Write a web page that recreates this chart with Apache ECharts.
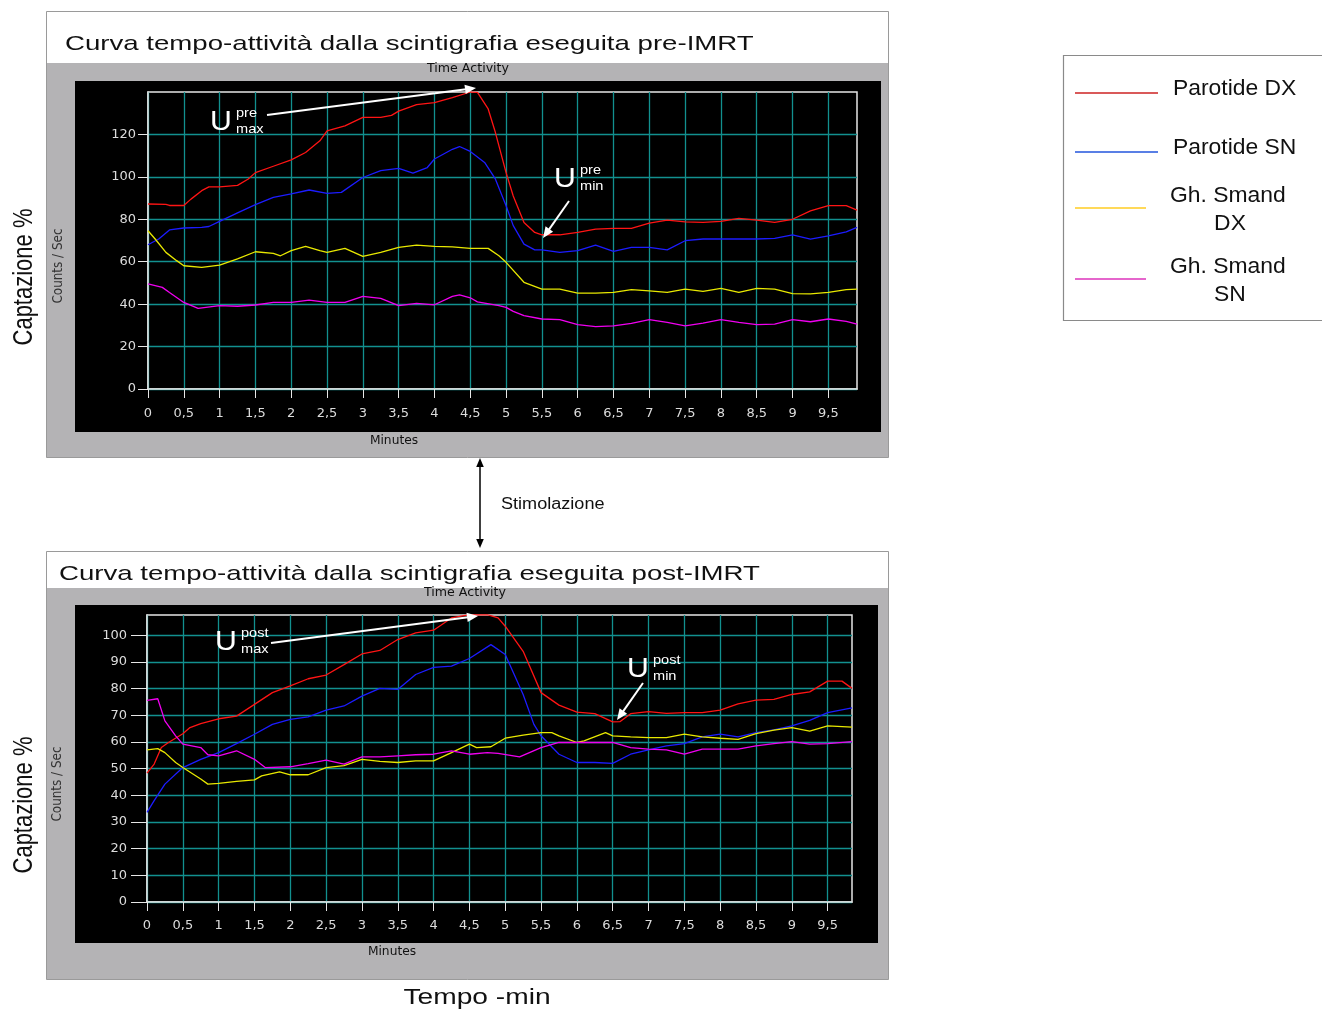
<!DOCTYPE html>
<html>
<head>
<meta charset="utf-8">
<script src="https://cdn.jsdelivr.net/npm/echarts@6/dist/echarts.min.js"></script>
<style>
html, body { margin: 0; padding: 0; background: #fff; }
#chart { width: 1322px; height: 1011px; }
</style>
</head>
<body>
<div id="chart"></div>
<script>
// nomi e colori delle curve
const seriesNames = ['Parotide DX', 'Parotide SN', 'Gh. Smand DX', 'Gh. Smand SN']
const lineColors = ['#ff1414', '#1c1cff', '#e8e800', '#f000f0']
const legendColors = ['#cc2222', '#2255dd', '#ffcc22', '#dd33bb']

// scintigrafia pre-IMRT: [minuti, counts/sec]
const preDX = [[0,87.2],[0.25,87],[0.3,86.5],[0.5,86.5],[0.6,89.5],[0.75,93.5],[0.85,95.3],[1,95.3],[1.25,96],[1.4,99],[1.5,102],[1.75,105],[2,108],[2.2,111.5],[2.4,117],[2.5,121.7],[2.75,124],[3,128],[3.25,128],[3.4,129],[3.5,131],[3.75,134],[4,135],[4.25,137.4],[4.5,140],[4.6,139.8],[4.75,132],[4.85,121],[5,102],[5.1,91],[5.25,78.5],[5.4,73.8],[5.5,72.7],[5.75,72.7],[6,73.8],[6.25,75.4],[6.5,75.7],[6.75,75.7],[7,78.2],[7.25,79.6],[7.5,78.8],[7.75,78.5],[8,79],[8.25,80.4],[8.5,79.6],[8.75,78.5],[9,80],[9.25,84],[9.5,86.4],[9.75,86.4],[9.9,84.3]]
const preSN = [[0,68],[0.15,70.7],[0.3,75],[0.5,75.9],[0.75,76.2],[0.85,76.6],[1,79],[1.25,83],[1.5,86.9],[1.75,90.3],[2,92],[2.25,93.8],[2.5,92.2],[2.7,92.7],[3,99.7],[3.25,102.9],[3.5,104],[3.7,101.8],[3.9,104.4],[4,108.4],[4.25,113],[4.35,114.3],[4.5,112],[4.7,106.8],[4.85,99],[5,86.4],[5.1,77],[5.25,68.3],[5.4,65.6],[5.5,65.6],[5.75,64.4],[6,65.2],[6.25,67.8],[6.5,64.9],[6.75,66.8],[7,66.8],[7.25,65.6],[7.5,69.9],[7.75,70.7],[8,70.7],[8.25,70.7],[8.5,70.7],[8.75,71],[9,72.7],[9.25,70.7],[9.5,72.2],[9.75,74.1],[9.9,76.2]]
const preSmDX = [[0,74.6],[0.1,70.7],[0.25,64.4],[0.4,60.5],[0.5,58.1],[0.75,57.3],[1,58.4],[1.25,61.3],[1.5,64.7],[1.75,63.9],[1.85,62.8],[2,65.2],[2.2,67.2],[2.4,65.2],[2.5,64.4],[2.75,66.3],[3,62.5],[3.25,64.4],[3.5,66.8],[3.75,67.8],[4,67.2],[4.25,67],[4.5,66.3],[4.75,66.3],[4.9,62.8],[5,59.7],[5.25,50.3],[5.5,47.1],[5.75,47.1],[6,45.2],[6.25,45.2],[6.5,45.5],[6.75,46.8],[7,46.3],[7.25,45.5],[7.5,47.1],[7.75,46],[8,47.4],[8.25,45.5],[8.5,47.4],[8.75,47.1],[9,45],[9.25,44.8],[9.5,45.5],[9.75,46.8],[9.9,47.1]]
const preSmSN = [[0,49.5],[0.2,47.9],[0.3,45.5],[0.5,40.8],[0.7,38],[1,39.3],[1.25,39],[1.5,39.6],[1.75,40.8],[2,40.8],[2.25,41.9],[2.5,40.8],[2.75,40.8],[3,43.7],[3.25,42.7],[3.5,39.3],[3.75,40.4],[4,39.7],[4.25,43.7],[4.35,44.4],[4.5,43],[4.6,41.1],[4.9,39.3],[5,38.5],[5.1,36.6],[5.25,34.6],[5.5,33],[5.75,32.7],[6,30.3],[6.25,29.4],[6.5,29.8],[6.75,30.9],[7,32.7],[7.25,31.4],[7.5,29.8],[7.75,31.1],[8,32.7],[8.25,31.4],[8.5,30.3],[8.75,30.6],[9,32.7],[9.25,31.7],[9.5,33],[9.75,31.9],[9.9,30.6]]

// scintigrafia post-IMRT
const postDX = [[0,48.3],[0.1,51.7],[0.2,57.9],[0.3,59.8],[0.5,63.1],[0.6,65.4],[0.75,66.9],[1,68.7],[1.25,69.7],[1.5,74.1],[1.75,78.5],[2,81],[2.25,83.7],[2.5,85.1],[2.75,89],[3,93],[3.25,94.3],[3.5,98.4],[3.75,100.9],[4,101.9],[4.25,106.5],[4.5,107.7],[4.75,107.7],[4.9,106.5],[5,103.4],[5.25,94],[5.5,78.5],[5.75,73.8],[6,71.2],[6.25,70.6],[6.5,67.5],[6.6,67.6],[6.75,70.6],[7,71.4],[7.25,70.7],[7.5,71],[7.75,71],[8,71.9],[8.25,74.3],[8.5,75.7],[8.75,76],[9,77.8],[9.25,78.8],[9.5,82.8],[9.7,82.8],[9.84,80.1]]
const postSN = [[0,33.6],[0.1,38],[0.25,44.2],[0.5,50.4],[0.75,53.5],[1,56],[1.25,59.4],[1.5,62.9],[1.75,66.6],[2,68.5],[2.25,69.4],[2.5,71.9],[2.75,73.5],[3,77.2],[3.25,80.1],[3.5,79.7],[3.75,85.3],[4,88],[4.25,88.4],[4.5,91.3],[4.8,96.5],[5,92.8],[5.25,77.8],[5.4,66.6],[5.5,62.3],[5.75,55.4],[6,52.3],[6.25,52.3],[6.5,52],[6.75,55.4],[7,57],[7.25,58.5],[7.5,59.4],[7.75,61.9],[8,62.9],[8.25,61.9],[8.5,63.5],[8.75,64.5],[9,66],[9.25,68.1],[9.5,71],[9.84,72.8]]
const postSmDX = [[0,57],[0.15,57.5],[0.25,56],[0.4,52.3],[0.5,50.4],[0.75,46.1],[0.85,44.2],[1,44.5],[1.25,45.2],[1.5,45.8],[1.6,47.3],[1.85,48.8],[2,47.7],[2.25,47.7],[2.5,50.4],[2.75,51.1],[3,53.5],[3.25,52.7],[3.5,52.3],[3.75,52.9],[4,52.9],[4.25,56],[4.5,59.2],[4.6,57.9],[4.8,58.2],[5,61.4],[5.25,62.6],[5.5,63.5],[5.65,63.5],[5.75,62.3],[6,59.8],[6.1,60.4],[6.4,63.5],[6.5,62.3],[6.75,61.9],[7,61.6],[7.25,61.6],[7.5,62.9],[7.75,61.9],[8,61.4],[8.25,61],[8.5,63.1],[8.75,64.4],[9,65.4],[9.25,64.1],[9.5,66],[9.84,65.6]]
const postSmSN = [[0,75.6],[0.15,76.2],[0.25,67.9],[0.4,62.3],[0.5,59.2],[0.75,57.9],[0.85,55.2],[1,54.8],[1.25,56.7],[1.5,53.5],[1.65,50.4],[2,50.7],[2.25,51.9],[2.5,53.2],[2.75,51.7],[3,54.4],[3.25,54.4],[3.5,54.8],[3.75,55.2],[4,55.4],[4.25,56.7],[4.5,55.4],[4.75,56],[4.9,55.7],[5.2,54.4],[5.5,57.9],[5.75,59.8],[6,59.8],[6.5,59.8],[6.75,57.9],[7,57.3],[7.25,57],[7.5,55.4],[7.75,57.3],[8,57.3],[8.25,57.3],[8.5,58.5],[8.75,59.4],[9,60.1],[9.25,59.2],[9.5,59.4],[9.84,60.1]]

// tacche degli assi
const xTicks = [0, 0.5, 1, 1.5, 2, 2.5, 3, 3.5, 4, 4.5, 5, 5.5, 6, 6.5, 7, 7.5, 8, 8.5, 9, 9.5]
const preYTicks = [0, 20, 40, 60, 80, 100, 120]
const postYTicks = [0, 10, 20, 30, 40, 50, 60, 70, 80, 90, 100]
const preAxis = { xMax: 9.9, yMax: 140, yStep: 20, yTicks: preYTicks }
const postAxis = { xMax: 9.84, yMax: 107.6, yStep: 10, yTicks: postYTicks }

const chart = echarts.init(document.getElementById('chart'))

const gridColor = '#12908f'
const axisColor = '#e6e6e6'
const labelColor = '#dcdcdc'
const plotFont = 'DejaVu Sans'
const arial = '"Liberation Sans", Arial, sans-serif'

function xAxisOpt (gi, ax, margin) {
  return {
    type: 'value', gridIndex: gi, min: 0, max: ax.xMax, interval: 0.5,
    axisLine: { lineStyle: { color: axisColor, width: 1.5 } },
    axisTick: { show: true, length: 9, customValues: xTicks, lineStyle: { color: axisColor } },
    axisLabel: {
      color: labelColor, fontFamily: plotFont, fontSize: 13, margin: margin,
      customValues: xTicks,
      formatter: v => String(v).replace('.', ',')
    },
    splitLine: { show: true, lineStyle: { color: gridColor, width: 1.3 } }
  }
}
function yAxisOpt (gi, ax, tickLen, margin) {
  return {
    type: 'value', gridIndex: gi, min: 0, max: ax.yMax, interval: ax.yStep,
    axisLine: { show: true, lineStyle: { color: axisColor, width: 1.5 } },
    axisTick: { show: true, length: tickLen, customValues: ax.yTicks, lineStyle: { color: axisColor } },
    axisLabel: {
      color: labelColor, fontFamily: plotFont, fontSize: 13, margin: margin,
      customValues: ax.yTicks
    },
    splitLine: { show: true, lineStyle: { color: gridColor, width: 1.3 } }
  }
}

function makeSeries (data, i, gi) {
  return {
    name: seriesNames[i], type: 'line', xAxisIndex: gi, yAxisIndex: gi,
    data: data, showSymbol: false, smooth: false, z: 3,
    lineStyle: { color: lineColors[i], width: 1.3 },
    itemStyle: { color: lineColors[i] }
  }
}

function arrow (x1, y1, x2, y2, color, w, h) {
  const a = Math.atan2(y2 - y1, x2 - x1)
  const c = Math.cos(a), s = Math.sin(a)
  const bx = x2 - h * c, by = y2 - h * s
  return [
    { type: 'line', z: 100, shape: { x1: x1, y1: y1, x2: bx + c, y2: by + s }, style: { stroke: color, lineWidth: w } },
    { type: 'polygon', z: 100, shape: { points: [[x2, y2], [bx + h * 0.42 * s, by - h * 0.42 * c], [bx - h * 0.42 * s, by + h * 0.42 * c]] }, style: { fill: color } }
  ]
}

function uLabel (x, y, sup, sub) {
  const t = (tx, ty, text, size, align) => ({
    type: 'text', z: 100, x: tx, y: ty, scaleX: 1.12,
    style: { text: text, fill: '#fff', font: size + 'px ' + arial, align: align, verticalAlign: 'middle' }
  })
  return [t(x, y, 'U', 27, 'center'), t(x + 15, y - 10, sup, 13, 'left'), t(x + 15, y + 6, sub, 13, 'left')]
}

function panel (top, titleH, bottom, blackTop, blackBottom, blackRight, title, titleX, titleY) {
  return [
    { type: 'rect', z: -20, shape: { x: 46.5, y: top + 0.5, width: 842, height: bottom - top }, style: { fill: '#b4b3b5', stroke: '#9a9a9a', lineWidth: 1 } },
    { type: 'rect', z: -19, shape: { x: 47, y: top + 1, width: 841, height: titleH }, style: { fill: '#fff' } },
    { type: 'rect', z: -18, shape: { x: 75, y: blackTop, width: blackRight - 75, height: blackBottom - blackTop }, style: { fill: '#000' } },
    { type: 'text', z: 10, x: titleX, y: titleY, scaleX: 1.315, style: { text: title, fill: '#111', font: '21px ' + arial, verticalAlign: 'middle' } }
  ]
}

function sideText (x, y, text, font, color, stretch) {
  return { type: 'text', z: 10, x: x, y: y, rotation: Math.PI / 2, scaleY: stretch, style: { text: text, fill: color, font: font, align: 'center', verticalAlign: 'middle' } }
}
function plainText (x, y, text, font, align, stretch) {
  return { type: 'text', z: 10, x: x, y: y, scaleX: stretch || 1, style: { text: text, fill: '#111', font: font, align: align || 'center', verticalAlign: 'middle' } }
}

const legendRows = [
  { y: 93, x2: 1158, lines: [['Parotide DX', 1173, 89, 'left']] },
  { y: 152, x2: 1158, lines: [['Parotide SN', 1173, 148, 'left']] },
  { y: 208, x2: 1146, lines: [['Gh. Smand', 1170, 196, 'left'], ['DX', 1230, 224, 'center']] },
  { y: 279, x2: 1146, lines: [['Gh. Smand', 1170, 267, 'left'], ['SN', 1230, 295, 'center']] }
]
const legendEls = [{ type: 'rect', z: 5, shape: { x: 1063.5, y: 55.5, width: 270, height: 265 }, style: { fill: '#fff', stroke: '#8a8a8a', lineWidth: 1.2 } }]
legendRows.forEach((r, i) => {
  legendEls.push({ type: 'line', z: 6, shape: { x1: 1075, y1: r.y, x2: r.x2, y2: r.y }, style: { stroke: legendColors[i], lineWidth: 1.5 } })
  r.lines.forEach(l => legendEls.push(Object.assign(plainText(l[1], l[2], l[0], '22px ' + arial, l[3], 1.04), { z: 6 })))
})

const graphics = [].concat(
  panel(11, 51, 457, 81, 432, 881, 'Curva tempo-attività dalla scintigrafia eseguita pre-IMRT', 65, 44),
  panel(551, 36, 979, 605, 943, 878, 'Curva tempo-attività dalla scintigrafia eseguita post-IMRT', 59, 574),
  [
    plainText(468, 69, 'Time Activity', '12px "DejaVu Sans"', 'center', 1.05),
    plainText(394, 441, 'Minutes', '12px "DejaVu Sans"', 'center', 1.02),
    plainText(465, 593, 'Time Activity', '12px "DejaVu Sans"', 'center', 1.05),
    plainText(392, 952, 'Minutes', '12px "DejaVu Sans"', 'center', 1.02),
    sideText(58, 266, 'Counts / Sec', '12px "DejaVu Sans"', '#333', 1.15),
    sideText(57, 784, 'Counts / Sec', '12px "DejaVu Sans"', '#333', 1.15),
    sideText(24, 277, 'Captazione %', '22px ' + arial, '#111', 1.28),
    sideText(24, 805, 'Captazione %', '22px ' + arial, '#111', 1.28),
    plainText(477, 998, 'Tempo -min', '22px ' + arial, 'center', 1.28),
    plainText(501, 505, 'Stimolazione', '16px ' + arial, 'left', 1.13)
  ],
  arrow(480, 500, 480, 458, '#000', 1.5, 9),
  arrow(480, 500, 480, 548, '#000', 1.5, 9),
  uLabel(221, 123, 'pre', 'max'),
  arrow(267, 115, 476, 88, '#fff', 2, 11),
  uLabel(565, 180, 'pre', 'min'),
  arrow(569, 201, 543, 238, '#fff', 2, 11),
  uLabel(226, 643, 'post', 'max'),
  arrow(271, 643, 478, 616, '#fff', 2, 11),
  uLabel(638, 670, 'post', 'min'),
  arrow(643, 683, 617, 720, '#fff', 2, 11),
  legendEls
)

const option = {
  backgroundColor: '#fff',
  animation: false,
  grid: [
    { left: 148, top: 92, width: 709, height: 297, show: true, borderColor: axisColor, borderWidth: 1.5, backgroundColor: 'transparent' },
    { left: 147, top: 615, width: 705, height: 287, show: true, borderColor: axisColor, borderWidth: 1.5, backgroundColor: 'transparent' }
  ],
  xAxis: [xAxisOpt(0, preAxis, 18), xAxisOpt(1, postAxis, 17)],
  yAxis: [yAxisOpt(0, preAxis, 10, 12), yAxisOpt(1, postAxis, 16, 20)],
  series: [
    makeSeries(preDX, 0, 0), makeSeries(preSN, 1, 0), makeSeries(preSmDX, 2, 0), makeSeries(preSmSN, 3, 0),
    makeSeries(postDX, 0, 1), makeSeries(postSN, 1, 1), makeSeries(postSmDX, 2, 1), makeSeries(postSmSN, 3, 1)
  ],
  graphic: { elements: graphics }
}
chart.setOption(option)
</script>
</body>
</html>
